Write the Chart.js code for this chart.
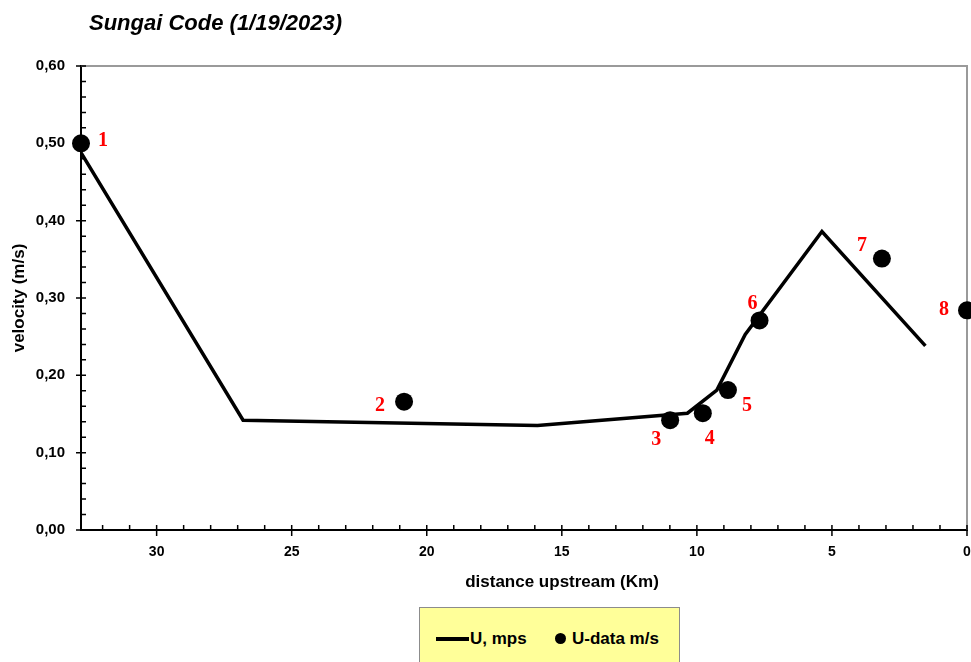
<!DOCTYPE html>
<html>
<head>
<meta charset="utf-8">
<title>Sungai Code (1/19/2023)</title>
<script src="https://cdn.jsdelivr.net/npm/chart.js@4.4.1/dist/chart.umd.min.js"></script>
<style>
  body { margin: 0; background: #fff; }
  #wrap { position: relative; width: 971px; height: 662px; overflow: hidden; }
  #chartTitle {
    position: absolute; left: 89px; top: 10px;
    font: italic bold 22px "Liberation Sans", Arial, sans-serif;
    line-height: 26px; color: #000; white-space: nowrap;
  }
  #legend {
    position: absolute; left: 419px; top: 607px; width: 259px; height: 70px;
    background: #ffff99; border: 1px solid #8c8c8c;
    font: bold 17px "Liberation Sans", Arial, sans-serif; color: #000;
  }
  #legend .sw-line { position: absolute; left: 16px; top: 29px; width: 33px; height: 4px; background: #000; }
  #legend .sw-dot { position: absolute; left: 135px; top: 25px; width: 11px; height: 11px; border-radius: 50%; background: #000; }
  #legend .txt { position: absolute; top: 20px; line-height: 22px; white-space: nowrap; }
</style>
</head>
<body>
<div id="wrap">
  <canvas id="chart" width="971" height="662"></canvas>
  <div id="chartTitle">Sungai Code (1/19/2023)</div>
  <div id="legend">
    <span class="sw-line"></span><span class="txt" id="lg1" style="left:50px"></span>
    <span class="sw-dot"></span><span class="txt" id="lg2" style="left:152px"></span>
  </div>
</div>
<script>
// =========================
// データ
// =========================
// 計算値 U (m/s) の折れ線
const lineDist = [32.8, 26.8, 15.9, 10.35, 9.26, 8.21, 5.37, 1.54];
const lineVel  = [0.488, 0.142, 0.135, 0.151, 0.181, 0.253, 0.386, 0.238];

// 観測値 U-data (m/s)
const obsDist = [32.8, 20.84, 10.99, 9.78, 8.85, 7.68, 3.15, 0.0];
const obsVel  = [0.500, 0.166, 0.142, 0.151, 0.181, 0.271, 0.351, 0.284];
const obsLabels = ["1", "2", "3", "4", "5", "6", "7", "8"];

// 軸目盛
const xTicks = [30, 25, 20, 15, 10, 5, 0];
const yTicks = [0, 0.1, 0.2, 0.3, 0.4, 0.5, 0.6];

const seriesNames = ["U, mps", "U-data m/s"];

// ラベルの位置ずらし（点からのオフセット px）
const labelOffsets = [[22, -3], [-24, 4], [-14, 20], [7, 26], [19, 16], [-7, -17], [-20, -13], [-23, -1]];

const SANS = '"Liberation Sans", Arial, sans-serif';

// =========================
// 目盛線・枠・番号ラベル
// =========================
const extras = {
  id: "extras",
  beforeDatasetsDraw(chart) {
    const { ctx, chartArea: a } = chart;
    const xs = chart.scales.x, ys = chart.scales.y;
    ctx.save();
    // 上・右の枠（グレー）
    ctx.strokeStyle = "#9a9a9a";
    ctx.lineWidth = 2;
    ctx.beginPath();
    ctx.moveTo(a.left, a.top);
    ctx.lineTo(a.right, a.top);
    ctx.lineTo(a.right, a.bottom);
    ctx.stroke();

    // 目盛（主・副）
    ctx.strokeStyle = "#000";
    ctx.lineWidth = 1.5;
    ctx.beginPath();
    for (let v = 0; v <= 32; v++) {
      const px = xs.getPixelForValue(v);
      const major = v % 5 === 0;
      ctx.moveTo(px, a.bottom - 5);
      ctx.lineTo(px, a.bottom + (major ? 6 : 0));
    }
    for (let i = 0; i <= 30; i++) {
      const py = ys.getPixelForValue(i * 0.02);
      const major = i % 5 === 0;
      ctx.moveTo(a.left - (major ? 5 : 0), py);
      ctx.lineTo(a.left + 5, py);
    }
    ctx.stroke();
    ctx.restore();
  },
  afterDatasetsDraw(chart) {
    const { ctx, chartArea: a } = chart;
    const meta = chart.getDatasetMeta(0);
    ctx.save();
    ctx.fillStyle = "#ff0000";
    ctx.font = 'bold 20px "Liberation Serif", "Times New Roman", serif';
    ctx.textAlign = "center";
    ctx.textBaseline = "middle";
    meta.data.forEach((pt, i) => {
      const [dx, dy] = labelOffsets[i];
      ctx.fillText(obsLabels[i], pt.x + dx, pt.y + dy);
    });

    // x軸タイトル
    ctx.fillStyle = "#000";
    ctx.font = "bold 17px " + SANS;
    ctx.fillText("distance upstream (Km)", (a.left + a.right) / 2 + 38, 582);
    ctx.restore();
  }
};

// =========================
// グラフ描画
// =========================
const ctx = document.getElementById("chart");

const chart = new Chart(ctx, {
  type: "scatter",
  data: {
    datasets: [
      {
        label: seriesNames[1],
        data: obsDist.map((d, i) => ({ x: d, y: obsVel[i] })),
        pointRadius: 9,
        pointHoverRadius: 9,
        backgroundColor: "#000",
        borderColor: "#000",
        borderWidth: 0,
        showLine: false,
        clip: false,
        order: 0,
      },
      {
        label: seriesNames[0],
        data: lineDist.map((d, i) => ({ x: d, y: lineVel[i] })),
        showLine: true,
        borderColor: "#000",
        borderWidth: 3.5,
        pointRadius: 0,
        tension: 0,
        order: 1,
      },
    ],
  },
  options: {
    responsive: false,
    animation: false,
    layout: { autoPadding: false, padding: { top: 66, right: 4, left: 0, bottom: 0 } },
    plugins: {
      legend: { display: false },
      tooltip: { enabled: false },
    },
    scales: {
      x: {
        type: "linear",
        reverse: true,
        min: 0,
        max: 32.8,
        afterBuildTicks: (s) => { s.ticks = xTicks.map((v) => ({ value: v })); },
        afterFit: (s) => { s.height = 132; s.paddingLeft = 0; s.paddingRight = 0; },
        grid: { display: false, drawTicks: false },
        border: { display: true, color: "#000", width: 2 },
        ticks: {
          color: "#000",
          font: { family: SANS, size: 14, weight: "bold" },
          padding: 14,
          maxRotation: 0,
          callback: (v) => String(v),
        },
      },
      y: {
        min: 0,
        max: 0.6,
        afterBuildTicks: (s) => { s.ticks = yTicks.map((v) => ({ value: v })); },
        afterFit: (s) => { s.width = 81; },
        grid: { display: false, drawTicks: false },
        border: { display: true, color: "#000", width: 2 },
        ticks: {
          color: "#000",
          font: { family: SANS, size: 15, weight: "bold" },
          padding: 16,
          callback: (v) => v.toFixed(2).replace(".", ","),
        },
        title: {
          display: true,
          text: "velocity (m/s)",
          color: "#000",
          font: { family: SANS, size: 17, weight: "bold" },
          padding: { top: 9, bottom: 0 },
        },
      },
    },
  },
  plugins: [extras],
});

// 凡例テキスト
document.getElementById("lg1").textContent = seriesNames[0];
document.getElementById("lg2").textContent = seriesNames[1];
</script>
</body>
</html>
